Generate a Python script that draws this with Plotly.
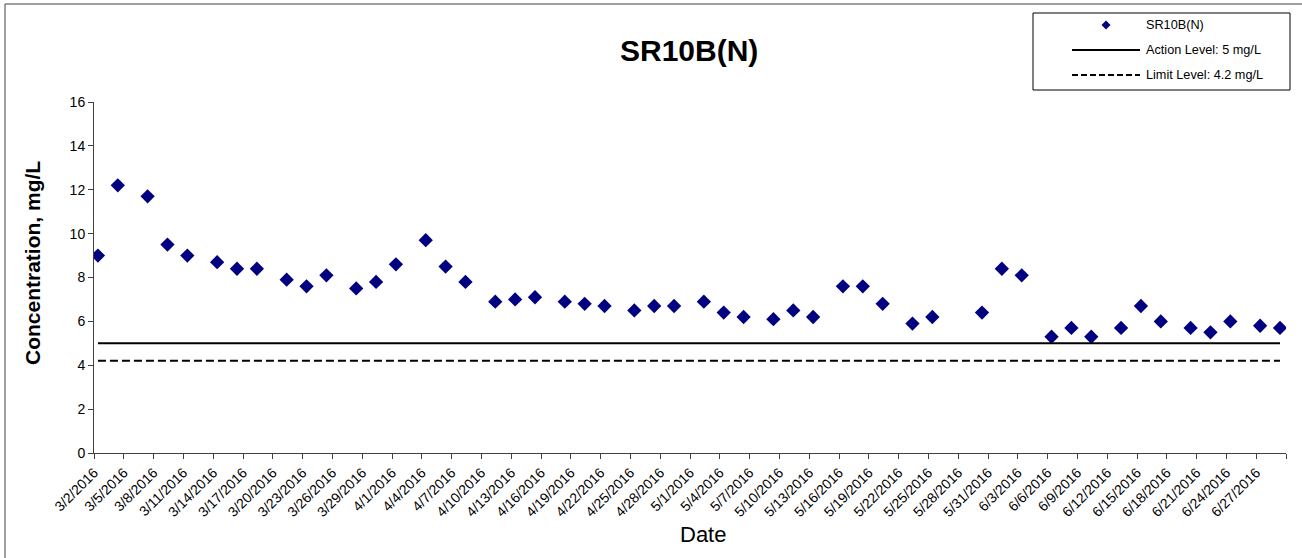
import plotly.graph_objects as go

# ---------------- data ----------------
sample_dates = [
    "2016-03-02", "2016-03-04", "2016-03-07", "2016-03-09", "2016-03-11",
    "2016-03-14", "2016-03-16", "2016-03-18", "2016-03-21", "2016-03-23",
    "2016-03-25", "2016-03-28", "2016-03-30", "2016-04-01", "2016-04-04",
    "2016-04-06", "2016-04-08", "2016-04-11", "2016-04-13", "2016-04-15",
    "2016-04-18", "2016-04-20", "2016-04-22", "2016-04-25", "2016-04-27",
    "2016-04-29", "2016-05-02", "2016-05-04", "2016-05-06", "2016-05-09",
    "2016-05-11", "2016-05-13", "2016-05-16", "2016-05-18", "2016-05-20",
    "2016-05-23", "2016-05-25", "2016-05-30", "2016-06-01", "2016-06-03",
    "2016-06-06", "2016-06-08", "2016-06-10", "2016-06-13", "2016-06-15",
    "2016-06-17", "2016-06-20", "2016-06-22", "2016-06-24", "2016-06-27",
    "2016-06-29",
]
sample_time = "09:30"
concentration = [
    9.0, 12.2, 11.7, 9.5, 9.0,
    8.7, 8.4, 8.4, 7.9, 7.6,
    8.1, 7.5, 7.8, 8.6, 9.7,
    8.5, 7.8, 6.9, 7.0, 7.1,
    6.9, 6.8, 6.7, 6.5, 6.7,
    6.7, 6.9, 6.4, 6.2, 6.1,
    6.5, 6.2, 7.6, 7.6, 6.8,
    5.9, 6.2, 6.4, 8.4, 8.1,
    5.3, 5.7, 5.3, 5.7, 6.7,
    6.0, 5.7, 5.5, 6.0, 5.8,
    5.7,
]
action_level = 5.0
limit_level = 4.2

tick_dates = [
    "2016-03-02", "2016-03-05", "2016-03-08", "2016-03-11", "2016-03-14",
    "2016-03-17", "2016-03-20", "2016-03-23", "2016-03-26", "2016-03-29",
    "2016-04-01", "2016-04-04", "2016-04-07", "2016-04-10", "2016-04-13",
    "2016-04-16", "2016-04-19", "2016-04-22", "2016-04-25", "2016-04-28",
    "2016-05-01", "2016-05-04", "2016-05-07", "2016-05-10", "2016-05-13",
    "2016-05-16", "2016-05-19", "2016-05-22", "2016-05-25", "2016-05-28",
    "2016-05-31", "2016-06-03", "2016-06-06", "2016-06-09", "2016-06-12",
    "2016-06-15", "2016-06-18", "2016-06-21", "2016-06-24", "2016-06-27",
    "2016-06-30",
]
tick_labels = [
    "3/2/2016", "3/5/2016", "3/8/2016", "3/11/2016", "3/14/2016",
    "3/17/2016", "3/20/2016", "3/23/2016", "3/26/2016", "3/29/2016",
    "4/1/2016", "4/4/2016", "4/7/2016", "4/10/2016", "4/13/2016",
    "4/16/2016", "4/19/2016", "4/22/2016", "4/25/2016", "4/28/2016",
    "5/1/2016", "5/4/2016", "5/7/2016", "5/10/2016", "5/13/2016",
    "5/16/2016", "5/19/2016", "5/22/2016", "5/25/2016", "5/28/2016",
    "5/31/2016", "6/3/2016", "6/6/2016", "6/9/2016", "6/12/2016",
    "6/15/2016", "6/18/2016", "6/21/2016", "6/24/2016", "6/27/2016",
    "",
]
y_ticks = [0, 2, 4, 6, 8, 10, 12, 14, 16]

series_name = "SR10B(N)"
action_name = "Action Level: 5 mg/L"
limit_name = "Limit Level: 4.2 mg/L"

# ---------------- layout geometry ----------------
W, H = 1302, 558
L, R, T, B = 94, 1286, 102, 453
FONT = "Arial, 'Liberation Sans', sans-serif"
MARKER_COLOR = "#000080"
AXIS_COLOR = "#404040"


def px(xp):
    return (xp - L) / (R - L)


def py(yp):
    return (B - yp) / (B - T)


x_vals = [d + " " + sample_time for d in sample_dates]
line_x = [x_vals[0], x_vals[-1]]

fig = go.Figure()
fig.add_trace(go.Scatter(
    x=x_vals, y=concentration, mode="markers", name=series_name,
    marker=dict(symbol="diamond", size=11, color=MARKER_COLOR,
                line=dict(width=0)),
    showlegend=False,
))
fig.add_trace(go.Scatter(
    x=line_x, y=[action_level, action_level], mode="lines", name=action_name,
    line=dict(color="black", width=2), showlegend=False,
))
fig.add_trace(go.Scatter(
    x=line_x, y=[limit_level, limit_level], mode="lines", name=limit_name,
    line=dict(color="black", width=2, dash="8px,4px"), showlegend=False,
))

shapes = []
annotations = []

# outer chart border (cropped at right/bottom)
shapes.append(dict(type="line", xref="paper", yref="paper",
                   x0=px(5), x1=px(5), y0=py(4), y1=py(600),
                   line=dict(color=AXIS_COLOR, width=1)))
shapes.append(dict(type="line", xref="paper", yref="paper",
                   x0=px(5), x1=px(1320), y0=py(4), y1=py(4),
                   line=dict(color=AXIS_COLOR, width=1)))

# legend box
shapes.append(dict(type="rect", xref="paper", yref="paper",
                   x0=px(1033), x1=px(1290), y0=py(13), y1=py(90),
                   line=dict(color="black", width=1), fillcolor="white"))
# legend row 1: diamond symbol
cx, cy, r = 1106, 25, 4.5
shapes.append(dict(type="path", xref="paper", yref="paper",
                   path=(f"M {px(cx)} {py(cy - r)} L {px(cx + r)} {py(cy)} "
                         f"L {px(cx)} {py(cy + r)} L {px(cx - r)} {py(cy)} Z"),
                   line=dict(width=0), fillcolor=MARKER_COLOR))
# legend row 2: solid line
shapes.append(dict(type="line", xref="paper", yref="paper",
                   x0=px(1072), x1=px(1140), y0=py(50), y1=py(50),
                   line=dict(color="black", width=2)))
# legend row 3: dashed line
shapes.append(dict(type="line", xref="paper", yref="paper",
                   x0=px(1072), x1=px(1140), y0=py(75), y1=py(75),
                   line=dict(color="black", width=2, dash="6px,3px")))
for label, yy in [(series_name, 25), (action_name, 50), (limit_name, 75)]:
    annotations.append(dict(text=label, xref="paper", yref="paper",
                            x=px(1144), y=py(yy), xanchor="left", yanchor="middle",
                            showarrow=False,
                            font=dict(family=FONT, size=12.7, color="black")))

# title
annotations.append(dict(text="<b>SR10B(N)</b>", xref="paper", yref="paper",
                        x=px(689), y=py(50), xanchor="center", yanchor="middle",
                        showarrow=False,
                        font=dict(family=FONT, size=30, color="black")))
# y-axis title
annotations.append(dict(text="<b>Concentration, mg/L</b>", xref="paper", yref="paper",
                        x=px(32), y=py(263), xanchor="center", yanchor="middle",
                        textangle=-90, showarrow=False,
                        font=dict(family=FONT, size=21, color="black")))
# x-axis title
annotations.append(dict(text="Date", xref="paper", yref="paper",
                        x=px(703), y=py(534), xanchor="center", yanchor="middle",
                        showarrow=False,
                        font=dict(family=FONT, size=22, color="black")))

fig.update_layout(
    width=W, height=H,
    margin=dict(l=L, r=W - R, t=T, b=H - B, pad=0),
    paper_bgcolor="white", plot_bgcolor="white",
    showlegend=False,
    font=dict(family=FONT, color="black"),
    shapes=shapes, annotations=annotations,
    xaxis=dict(
        type="date",
        range=["2016-03-02", "2016-06-30"],
        tickmode="array", tickvals=tick_dates, ticktext=tick_labels,
        tickangle=-45, tickfont=dict(family=FONT, size=14, color="black"),
        ticks="outside", ticklen=5, tickcolor=AXIS_COLOR, tickwidth=1,
        showline=True, linecolor=AXIS_COLOR, linewidth=1,
        showgrid=False, zeroline=False, fixedrange=True,
    ),
    yaxis=dict(
        range=[0, 16], tickmode="array", tickvals=y_ticks,
        tickfont=dict(family=FONT, size=14, color="black"),
        ticks="outside", ticklen=5, tickcolor=AXIS_COLOR, tickwidth=1,
        showline=True, linecolor=AXIS_COLOR, linewidth=1,
        showgrid=False, zeroline=False, fixedrange=True,
    ),
)

fig.write_html(
    "out.html",
    config={"displayModeBar": False},
    post_script="document.body.style.margin='0';document.body.style.overflow='hidden';",
)
